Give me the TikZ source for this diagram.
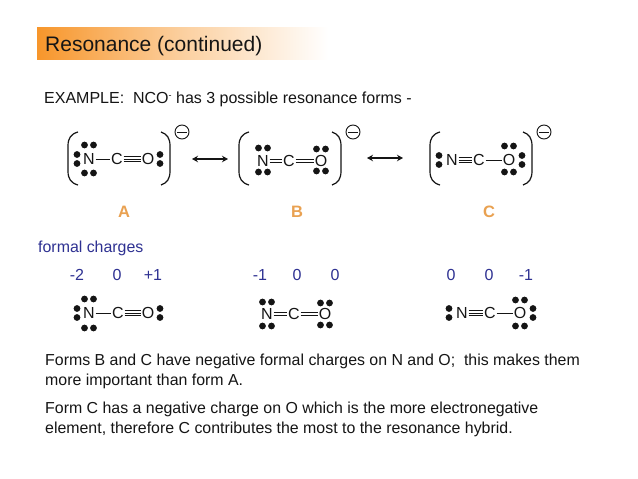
\documentclass[tikz,border=0pt]{standalone}
\usepackage{fontspec}
\usetikzlibrary{arrows.meta}
\setmainfont{Liberation Sans}
\definecolor{bartone}{HTML}{F7962B}
\definecolor{lettertone}{HTML}{E9A151}
\definecolor{chargetone}{HTML}{2E3192}
\definecolor{inktone}{HTML}{151515}
\tikzset{
  x=1pt,y=-1pt,
  atom/.style={font=\fontsize{16}{16}\selectfont,text=inktone,inner sep=.6pt,anchor=center},
  bodytext/.style={font=\fontsize{15.9}{15.9}\selectfont,text=inktone,inner sep=0pt,anchor=base west},
  chargetext/.style={font=\fontsize{16}{16}\selectfont,text=chargetone,inner sep=0pt,anchor=base},
  lettertext/.style={font=\fontsize{16.5}{16.5}\selectfont\bfseries,text=lettertone,inner sep=0pt,anchor=base},
  bond/.style={line width=1pt,draw=inktone},
  bracketline/.style={line width=1.2pt,draw=inktone},
  minusring/.style={circle,draw=inktone,line width=.9pt,minimum size=14pt,inner sep=0pt},
  resarrow/.style={line width=1.2pt,draw=inktone,{Stealth[length=6pt,width=6.5pt]}-{Stealth[length=6pt,width=6.5pt]}}
}
\newcommand{\dotpair}[4]{\fill[inktone] (#1,#2) circle (3.4) (#3,#4) circle (3.4);}
\newcommand{\atomsat}[5]{%
  \node[atom] (#1N) at (#2,#5) {N};
  \node[atom] (#1C) at (#3,#5) {C};
  \node[atom] (#1O) at (#4,#5) {O};}
\newcommand{\singlebond}[2]{\draw[bond] (#1.east) -- (#2.west);}
\newcommand{\doublebond}[2]{\draw[bond] ([yshift=1.8pt]#1.east) -- ([yshift=1.8pt]#2.west) ([yshift=-1.8pt]#1.east) -- ([yshift=-1.8pt]#2.west);}
\newcommand{\triplebond}[2]{\draw[bond] (#1.east) -- (#2.west) ([yshift=2.7pt]#1.east) -- ([yshift=2.7pt]#2.west) ([yshift=-2.7pt]#1.east) -- ([yshift=-2.7pt]#2.west);}
\newcommand{\formA}[7]{%
  \atomsat{#1}{#2}{#3}{#4}{#5}
  \singlebond{#1N}{#1C}\triplebond{#1C}{#1O}
  \dotpair{#2-4.5}{#6}{#2+4.5}{#6}
  \dotpair{#2-4.5}{#7}{#2+4.5}{#7}
  \dotpair{#2-12}{#5-4.5}{#2-12}{#5+4.5}
  \dotpair{#4+12}{#5-4.5}{#4+12}{#5+4.5}}
\newcommand{\formB}[7]{%
  \atomsat{#1}{#2}{#3}{#4}{#5}
  \doublebond{#1N}{#1C}\doublebond{#1C}{#1O}
  \dotpair{#2-4.5}{#6}{#2+4.5}{#6}
  \dotpair{#2-4.5}{#7}{#2+4.5}{#7}
  \dotpair{#4-4.5}{#6+1}{#4+4.5}{#6+1}
  \dotpair{#4-4.5}{#7-1}{#4+4.5}{#7-1}}
\newcommand{\formC}[7]{%
  \atomsat{#1}{#2}{#3}{#4}{#5}
  \triplebond{#1N}{#1C}\singlebond{#1C}{#1O}
  \dotpair{#2-13}{#5-4.5}{#2-13}{#5+4.5}
  \dotpair{#4-4.5}{#6}{#4+4.5}{#6}
  \dotpair{#4-4.5}{#7}{#4+4.5}{#7}
  \dotpair{#4+13}{#5-4.5}{#4+13}{#5+4.5}}
\newcommand{\brackets}[3]{%
  \draw[bracketline] (#1+10,132) .. controls (#1+3,134) and (#1,138) .. (#1,146) -- (#1,171) .. controls (#1,179) and (#1+3,183) .. (#1+10,185);
  \draw[bracketline] (#2-9,132) .. controls (#2-3,134) and (#2,138) .. (#2,146) -- (#2,171) .. controls (#2,179) and (#2-3,183) .. (#2-9,185);
  \node[minusring] (#3) at (#2+12,132) {};
  \draw[bond,line width=.9pt,shorten <=2.5pt,shorten >=2.5pt] (#3.west) -- (#3.east);}
\begin{document}
\begin{tikzpicture}
\useasboundingbox (0,0) rectangle (638,479);
\fill[white] (0,0) rectangle (638,479);
\shade[left color=bartone,right color=white,middle color=bartone!45!white] (37,27) rectangle (328,59);
\node[font=\fontsize{21}{21}\selectfont,text=inktone,inner sep=0pt,anchor=base west] (title) at (45,51.5) {Resonance (continued)};
\node[bodytext,font=\fontsize{16}{16}\selectfont] (example) at (44,103) {EXAMPLE:\ \ NCO\raisebox{5pt}{\fontsize{9}{9}\selectfont -} has 3 possible resonance forms -};

\formA{a}{89}{117}{148}{159}{145}{173}
\formB{b}{263}{289}{321}{161}{148}{172}
\formC{c}{452}{479}{509}{160}{146}{172}
\brackets{68}{170}{ma}
\brackets{239}{341}{mb}
\brackets{430}{532}{mc}

\coordinate (l1) at (192,159); \coordinate (r1) at (228,159);
\coordinate (l2) at (367,158); \coordinate (r2) at (403,158);
\draw[resarrow] (l1) -- (r1);
\draw[resarrow] (l2) -- (r2);

\node[lettertext] (la) at (124,217) {A};
\node[lettertext] (lb) at (297,217) {B};
\node[lettertext] (lc) at (489,217) {C};

\node[bodytext,text=chargetone] (fc) at (38,252) {formal charges};
\node[chargetext] (q1) at (77,280) {-2};
\node[chargetext] (q2) at (117,280) {0};
\node[chargetext] (q3) at (153,280) {+1};
\node[chargetext] (q4) at (260,280) {-1};
\node[chargetext] (q5) at (297,280) {0};
\node[chargetext] (q6) at (335,280) {0};
\node[chargetext] (q7) at (451,280) {0};
\node[chargetext] (q8) at (489,280) {0};
\node[chargetext] (q9) at (526,280) {-1};

\formA{d}{89}{118}{148}{313}{299}{328}
\formB{e}{267}{294}{325}{314}{302}{326}
\formC{f}{462}{490}{520}{313}{300}{326}

\node[bodytext] (p1) at (45,365) {Forms B and C have negative formal charges on N and O;\ \ this makes them};
\node[bodytext] (p2) at (45,385) {more important than form A.};
\node[bodytext] (p3) at (45,413) {Form C has a negative charge on O which is the more electronegative};
\node[bodytext] (p4) at (45,433) {element, therefore C contributes the most to the resonance hybrid.};
\end{tikzpicture}
\end{document}
